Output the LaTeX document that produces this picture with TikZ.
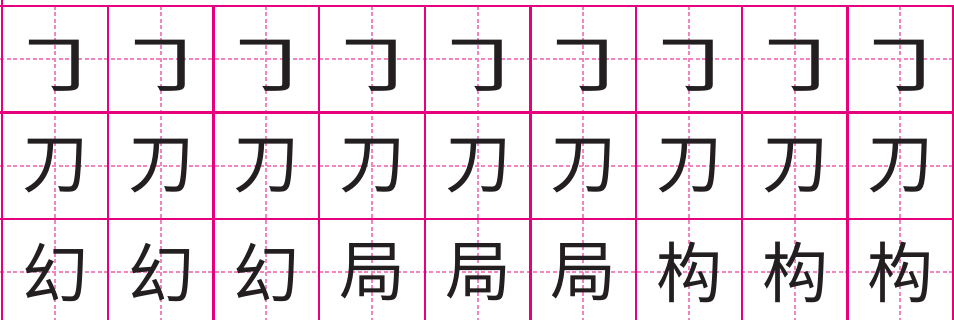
\documentclass[tikz,border=0pt]{standalone}
\usepackage{fontspec}
\newfontfamily\cjk{Noto Sans CJK SC}
\definecolor{gridmag}{HTML}{E6007E}
\definecolor{gridpink}{HTML}{F284C0}
\definecolor{ink}{HTML}{231F20}
\begin{document}
\begin{tikzpicture}[x=1pt,y=1pt,
  solidline/.style={draw=gridmag,line width=2.4pt},
  guide/.style={draw=gridpink,line width=1.6pt,dash pattern=on 4pt off 2.5pt},
  glyph/.style={text=ink,font=\cjk\fontsize{66}{66}\selectfont,inner sep=0pt}]
\useasboundingbox (0,0) rectangle (954,320);
\fill[white] (0,0) rectangle (954,320);
% guides (y image -> tikz: 320 - y)
\foreach \gx in {55,161,266,372,478,583,689,795,900} {
  \draw[guide] (\gx,314) -- (\gx,-10);
}
\foreach \gy in {261,154,48} {
  \draw[guide] (0,\gy) -- (954,\gy);
}
% solid grid
\foreach \ry in {314,207.5,101} {
  \draw[solidline] (0,\ry) -- (954,\ry);
}
\draw[solidline] (2,320) -- (2,-10);
\foreach \vx in {107.7,213.3,319,424.7,530.3,636,741.7,847.4,953} {
  \draw[solidline] (\vx,314) -- (\vx,-10);
}
% characters
\foreach \cx [count=\k from 0] in {55,161,266,372,478,583,689,795,900} {
  \node[glyph,xscale=1.5,yscale=1.0] (a\k) at (\cx+2,254) {㇆};
  \node[glyph] (b\k) at (\cx,154.25) {刀};
}
\foreach \ch/\cx [count=\k from 0] in {幻/55,幻/161,幻/266,局/372,局/478,局/583,构/689,构/795,构/900} {
  \node[glyph] (c\k) at (\cx,47.75) {\ch};
}
\end{tikzpicture}
\end{document}
